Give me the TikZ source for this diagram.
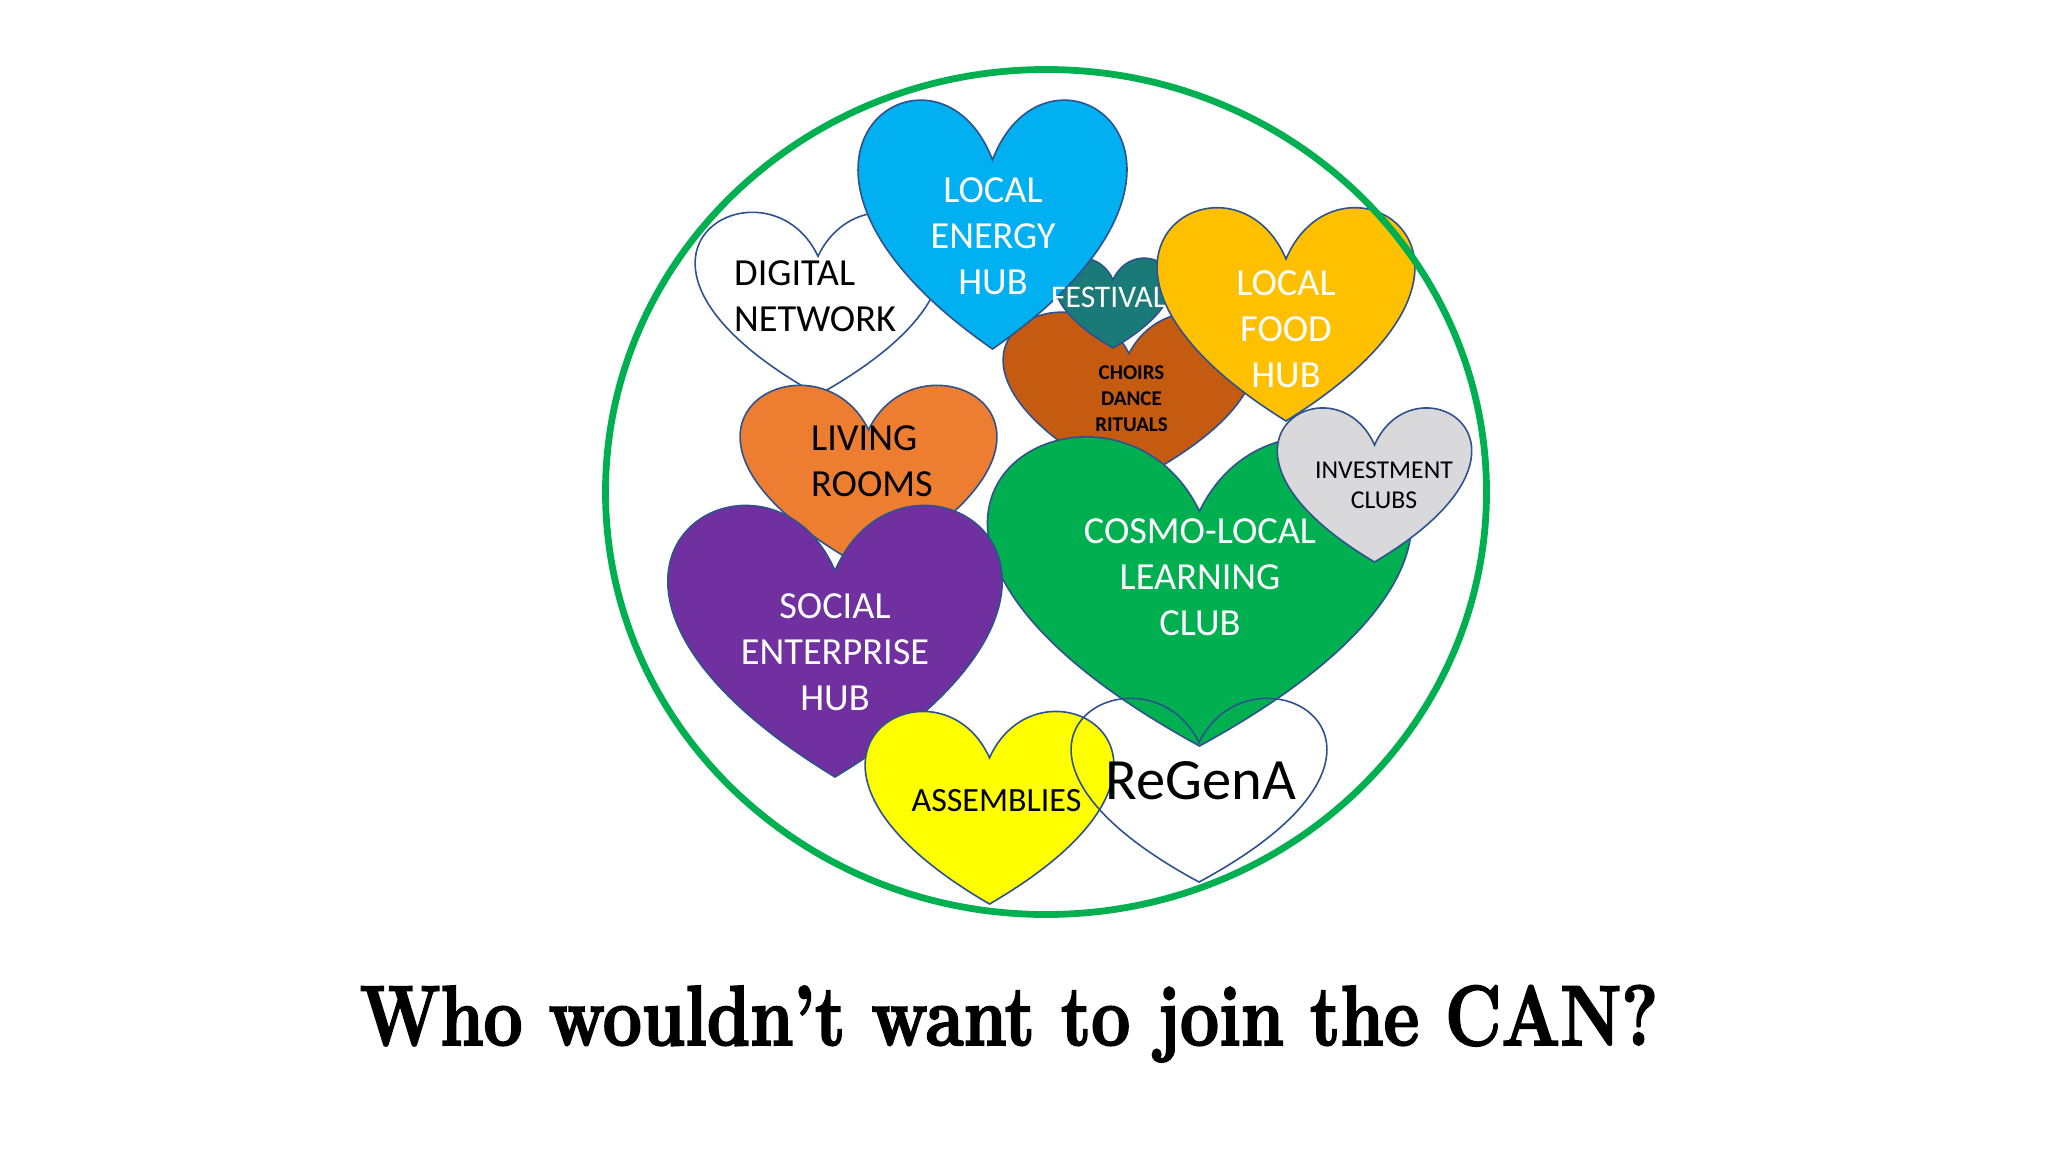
\documentclass[tikz,border=0pt]{standalone}
\usepackage{fontspec}
\usepackage{graphicx}
\setsansfont{Carlito}
\newfontfamily\titlefont[FakeBold=2.5]{Latin Modern Roman}
\definecolor{hline}{HTML}{2F528F}
\definecolor{ring}{HTML}{00B050}
\definecolor{cenergy}{HTML}{00B0F0}
\definecolor{cfest}{HTML}{1A7A78}
\definecolor{cchoir}{HTML}{C55A11}
\definecolor{cfood}{HTML}{FFC000}
\definecolor{cliving}{HTML}{ED7D31}
\definecolor{csocial}{HTML}{7030A0}
\definecolor{ccosmo}{HTML}{00B050}
\definecolor{cinvest}{HTML}{D9D9DB}
\definecolor{cassem}{HTML}{FFFF00}
% left, right, top, bottom, fill options
\newcommand{\hrt}[5]{%
  \pgfmathsetmacro{\hw}{#2-#1}\pgfmathsetmacro{\hh}{#4-#3}%
  \pgfmathsetmacro{\hc}{(#1+#2)/2}\pgfmathsetmacro{\hn}{#3+\hh/4}%
  \pgfmathsetmacro{\hua}{\hc+\hw*0.20833}\pgfmathsetmacro{\hub}{\hc+\hw*1.02083}%
  \pgfmathsetmacro{\hva}{\hc-\hw*0.20833}\pgfmathsetmacro{\hvb}{\hc-\hw*1.02083}%
  \pgfmathsetmacro{\hy}{#3-\hh/3}%
  \draw[heartline,#5] (\hc,\hn) .. controls (\hua,\hy) and (\hub,\hn) .. (\hc,#4)
     .. controls (\hvb,\hn) and (\hva,\hy) .. (\hc,\hn) -- cycle;}
\tikzset{
  heartline/.style={draw=hline,line width=1.6pt,line join=miter},
  lab/.style={inner sep=0pt,font=\sffamily\fontsize{38.3}{46}\selectfont,align=center},
  labl/.style={inner sep=0pt,font=\sffamily\fontsize{38.3}{46}\selectfont,align=left,anchor=west},
}
\begin{document}
\begin{tikzpicture}[x=1pt,y=-1pt]
\useasboundingbox (0,0) rectangle (2048,1152);
\fill[white] (0,0) rectangle (2048,1152);
\hrt{696}{940}{210}{395}{fill=white}
\hrt{1004}{1254}{310}{484}{fill=cchoir}
\hrt{1055}{1171}{257}{348}{fill=cfest}
\hrt{859}{1126}{97}{349}{fill=cenergy}
\node[lab,text=white,font=\sffamily\fontsize{31.5}{38}\selectfont,anchor=west] (festival) at (1051,297.5) {FESTIVALS};
\hrt{1158}{1414}{205}{421}{fill=cfood}
\draw[ring,line width=6.8pt] (1046,492) ellipse [x radius=440.5,y radius=422.5];
\hrt{741}{996}{383}{570}{fill=cliving}
\hrt{989}{1410}{433}{746}{fill=ccosmo}
\hrt{669}{1001}{502}{777}{fill=csocial}
\hrt{1278}{1471}{406}{562}{fill=cinvest}
\hrt{866}{1113}{709}{904}{fill=cassem}
\hrt{1072}{1326}{696}{882}{}
\node[lab,text=white] (energy) at (993,236.5) {LOCAL\\ENERGY\\HUB};
\node[labl] (digital) at (734,296) {DIGITAL\\NETWORK};
\node[lab,font=\sffamily\bfseries\fontsize{21}{26}\selectfont] (choirs) at (1131.5,398.5) {CHOIRS\\DANCE\\RITUALS};
\node[lab,text=white] (food) at (1286,329) {LOCAL\\FOOD\\HUB};
\node[labl] (living) at (811,461) {LIVING\\ROOMS};
\node[lab,text=white] (social) at (835,652.5) {SOCIAL\\ENTERPRISE\\HUB};
\node[lab,text=white] (cosmo) at (1200,577.5) {COSMO-LOCAL\\LEARNING\\CLUB};
\node[lab,font=\sffamily\fontsize{25.7}{30}\selectfont] (invest) at (1384,485.5) {INVESTMENT\\CLUBS};
\node[lab,font=\sffamily\fontsize{34}{38}\selectfont] (assem) at (996.5,800.5) {ASSEMBLIES};
\node[lab,font=\sffamily\fontsize{58.5}{66}\selectfont] (regena) at (1201,781) {ReGenA};
\node[inner sep=0pt,anchor=base] (title) at (1009,1045) {\scalebox{0.815}[1]{\fontsize{85}{100}\selectfont\titlefont\bfseries Who wouldn’t want to join the CAN?}};
\end{tikzpicture}
\end{document}
